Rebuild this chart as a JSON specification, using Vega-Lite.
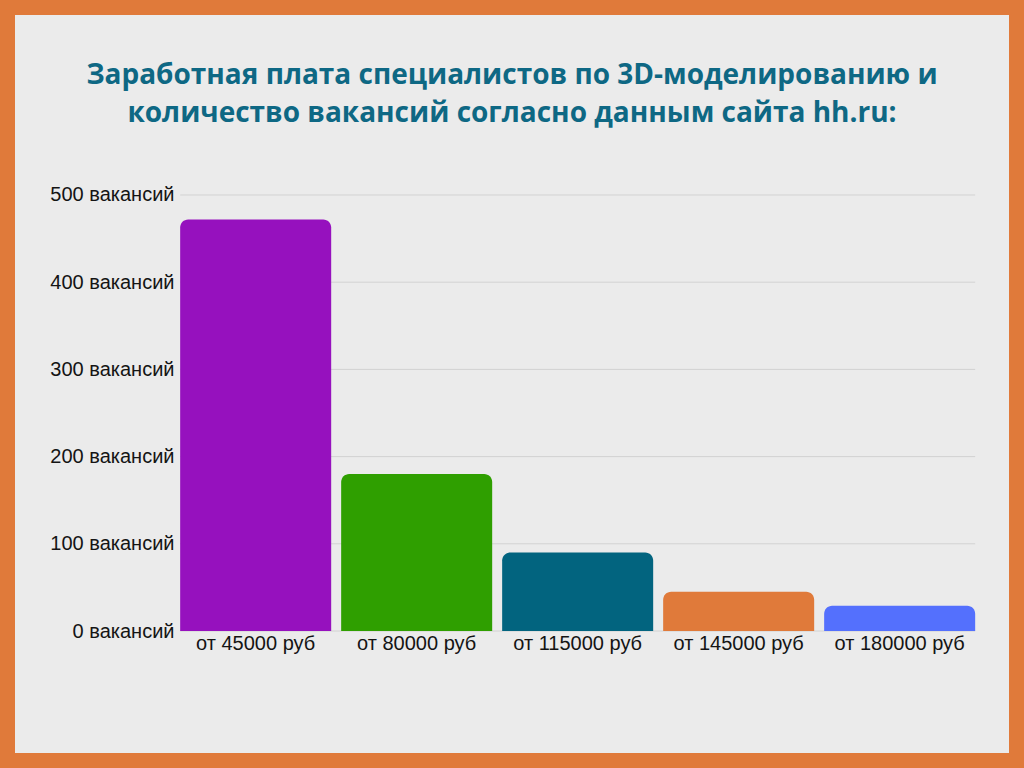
{
  "$schema": "https://vega.github.io/schema/vega-lite/v6.json",
  "width": 994,
  "height": 738,
  "autosize": "none",
  "padding": 15,
  "background": "#E07A3A",
  "config": {
    "view": {"fill": "#ebebeb", "stroke": null},
    "font": "Liberation Sans"
  },
  "title": {
    "text": ["Заработная плата специалистов по 3D-моделированию и", "количество вакансий согласно данным сайта hh.ru:"],
    "font": "Open Sans",
    "fontSize": 28,
    "fontWeight": "bold",
    "color": "#0E6884",
    "anchor": "middle",
    "frame": "group",
    "offset": -113,
    "lineHeight": 38
  },
  "data": {
    "values": [
      {"salary": "от 45000 руб", "count": 472},
      {"salary": "от 80000 руб", "count": 180},
      {"salary": "от 115000 руб", "count": 90},
      {"salary": "от 145000 руб", "count": 45},
      {"salary": "от 180000 руб", "count": 29}
    ]
  },
  "layer": [
    {
      "data": {"values": [{"v": 0}, {"v": 100}, {"v": 200}, {"v": 300}, {"v": 400}, {"v": 500}]},
      "mark": {"type": "rule", "color": "#d2d2d2", "strokeWidth": 1},
      "encoding": {
        "y": {
          "field": "v",
          "type": "quantitative",
          "axis": {
            "values": [0, 100, 200, 300, 400, 500],
            "labelExpr": "datum.value + ' вакансий'",
            "grid": false,
            "ticks": false,
            "domain": false,
            "offset": -163,
            "labelFontSize": 20,
            "labelColor": "#141414",
            "labelPadding": 4,
            "title": null,
            "zindex": 1
          }
        },
        "x": {"datum": "от 45000 руб", "type": "nominal", "bandPosition": 0},
        "x2": {"datum": "от 180000 руб", "bandPosition": 1}
      }
    },
    {
      "mark": {"type": "bar", "cornerRadiusTopLeft": 8, "cornerRadiusTopRight": 8},
      "encoding": {
        "x": {
          "field": "salary",
          "type": "nominal",
          "sort": null,
          "scale": {
            "domain": ["от 45000 руб", "от 80000 руб", "от 115000 руб", "от 145000 руб", "от 180000 руб"],
            "paddingInner": 0.062,
            "paddingOuter": 0.618,
            "align": 0.83
          },
          "axis": {
            "orient": "bottom",
            "offset": -122,
            "ticks": false,
            "domain": false,
            "grid": false,
            "bandPosition": 0.5,
            "labelAngle": 0,
            "labelAlign": "center",
            "labelBaseline": "top",
            "labelFontSize": 20,
            "labelColor": "#141414",
            "labelPadding": 2,
            "title": null,
            "zindex": 1
          }
        },
        "y": {
          "field": "count",
          "type": "quantitative",
          "scale": {"domain": [-139.9, 706.4], "nice": false, "zero": false},
          "axis": {
            "values": [0, 100, 200, 300, 400, 500],
            "labelExpr": "datum.value + ' вакансий'",
            "grid": false,
            "ticks": false,
            "domain": false,
            "offset": -163,
            "labelFontSize": 20,
            "labelColor": "#141414",
            "labelPadding": 4,
            "title": null,
            "zindex": 1
          }
        },
        "y2": {"datum": 0},
        "color": {
          "field": "salary",
          "type": "nominal",
          "scale": {
            "domain": ["от 45000 руб", "от 80000 руб", "от 115000 руб", "от 145000 руб", "от 180000 руб"],
            "range": ["#9611BE", "#2F9F00", "#02647F", "#E07A3A", "#5470FD"]
          },
          "legend": null
        }
      }
    }
  ]
}
